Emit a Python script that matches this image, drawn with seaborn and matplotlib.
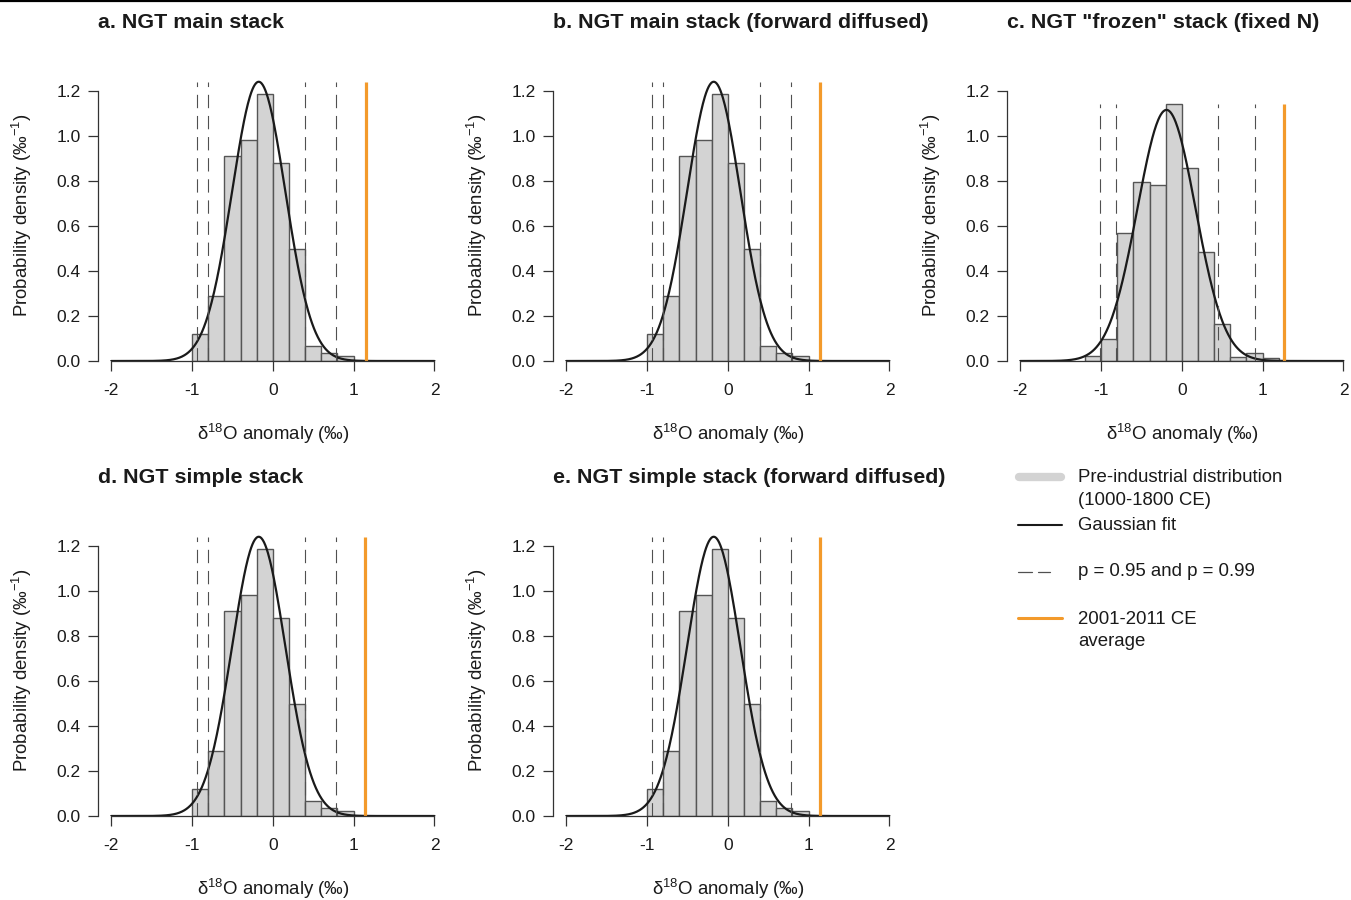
import numpy as np
import pandas as pd
import matplotlib
matplotlib.use("Agg")
import matplotlib.pyplot as plt
import seaborn as sns
from matplotlib.lines import Line2D

sns.set_style("ticks")
plt.rcParams['font.family'] = ['Liberation Sans', 'DejaVu Sans']
plt.rcParams['mathtext.fontset'] = 'custom'
plt.rcParams['mathtext.rm'] = 'Liberation Sans'
plt.rcParams['mathtext.it'] = 'Liberation Sans:italic'
plt.rcParams['mathtext.bf'] = 'Liberation Sans:bold'
plt.rcParams['axes.unicode_minus'] = False

# ---------------- data ----------------
titles = ['a. NGT main stack',
          'b. NGT main stack (forward diffused)',
          'c. NGT "frozen" stack (fixed N)',
          'd. NGT simple stack',
          'e. NGT simple stack (forward diffused)']

edges_main = [-1.0, -0.8, -0.6, -0.4, -0.2, 0.0, 0.2, 0.4, 0.6, 0.8, 1.0]
dens_main = [0.12, 0.29, 0.913, 0.983, 1.186, 0.88, 0.50, 0.067, 0.034, 0.024]

edges_frozen = [-1.2, -1.0, -0.8, -0.6, -0.4, -0.2, 0.0, 0.2, 0.4, 0.6, 0.8, 1.0, 1.2]
dens_frozen = [0.022, 0.099, 0.567, 0.794, 0.782, 1.144, 0.858, 0.486, 0.163, 0.018, 0.036, 0.012]

fit_mean = [-0.175, -0.175, -0.19, -0.175, -0.175]
fit_sd = [0.33, 0.33, 0.36, 0.33, 0.33]
fit_peak = [1.241, 1.241, 1.116, 1.241, 1.241]

q_main = [-0.94, -0.80, 0.40, 0.78]
q_frozen = [-1.01, -0.81, 0.45, 0.90]

recent_avg = [1.15, 1.145, 1.26, 1.14, 1.135]

x_ticks = [-2, -1, 0, 1, 2]
x_tick_labels = ['-2', '-1', '0', '1', '2']
y_ticks = [0.0, 0.2, 0.4, 0.6, 0.8, 1.0, 1.2]
y_tick_labels = ['0.0', '0.2', '0.4', '0.6', '0.8', '1.0', '1.2']

panel_edges = [edges_main, edges_main, edges_frozen, edges_main, edges_main]
panel_dens = [dens_main, dens_main, dens_frozen, dens_main, dens_main]
panel_q = [q_main, q_main, q_frozen, q_main, q_main]

# ---------------- layout ----------------
W, H = 1351, 900
fig = plt.figure(figsize=(W / 100, H / 100), dpi=100)

left_px = [98.3, 553.3, 1007.3, 98.3, 553.3]
zero_px = [361, 361, 361, 816, 816]
ax_w = 349.1
ax_h = 285.75
title_y = [22.5, 22.5, 22.5, 477.5, 477.5]

FS = 13.4
TFS = 12.5
line_col = '#333333'
ORANGE = '#F39A2B'

for i in range(5):
    ax = fig.add_axes([left_px[i] / W, 1 - zero_px[i] / H, ax_w / W, ax_h / H])
    edges = list(panel_edges[i])
    dens = list(panel_dens[i])
    centers = [(a + b) / 2 for a, b in zip(edges[:-1], edges[1:])]
    df = pd.DataFrame({'x': centers, 'w': dens})
    sns.histplot(data=df, x='x', weights='w', bins=edges, stat='count',
                 color='#d3d3d3', edgecolor='#555555', linewidth=1.0,
                 alpha=1, ax=ax)
    xs = np.linspace(-2, 2, 500)
    ys = fit_peak[i] * np.exp(-(xs - fit_mean[i]) ** 2 / (2 * fit_sd[i] ** 2))
    sns.lineplot(x=xs, y=ys, color='#1a1a1a', lw=1.6, ax=ax)
    top = max(fit_peak[i], max(dens))
    ax.vlines(panel_q[i], 0, top, colors='#505050', linestyles=(0, (12, 7)), lw=0.8)
    ax.vlines([recent_avg[i]], 0, top, colors=ORANGE, lw=2.3)

    ax.set_xlim(-2.16, 2.16)
    ax.set_ylim(0, 1.27)
    for s in ['top', 'right']:
        ax.spines[s].set_visible(False)
    ax.spines['left'].set_bounds(0, 1.2)
    ax.spines['bottom'].set_bounds(-2, 2)
    for s in ['left', 'bottom']:
        ax.spines[s].set_color(line_col)
        ax.spines[s].set_linewidth(0.9)
    ax.set_xticks(x_ticks)
    ax.set_xticklabels(x_tick_labels)
    ax.set_yticks(y_ticks)
    ax.set_yticklabels(y_tick_labels)
    ax.tick_params(axis='both', length=7.5, width=0.9, color=line_col,
                   labelsize=TFS, labelcolor='#1a1a1a')
    ax.tick_params(axis='x', pad=8)
    ax.tick_params(axis='y', pad=5)
    ax.set_xlabel('')
    ax.set_ylabel('')
    ax.text(0.5, -73 / ax_h, r'δ$^{18}$O anomaly (‰)',
            transform=ax.transAxes, ha='center', va='center', fontsize=FS,
            color='#1a1a1a')
    ax.text(-76.5 / ax_w, 145.5 / ax_h, r'Probability density (‰$^{-1}$)',
            transform=ax.transAxes, ha='center', va='center', rotation=90,
            fontsize=FS, color='#1a1a1a')
    fig.text(left_px[i] / W, 1 - title_y[i] / H, titles[i], ha='left',
             va='center', fontsize=15.4, fontweight='bold', color='#1a1a1a')

# ---------------- legend ----------------
lax = fig.add_axes([0, 0, 1, 1])
lax.set_xlim(0, W)
lax.set_ylim(H, 0)
lax.axis('off')
lax.patch.set_alpha(0)
lax.plot([1019, 1061], [477, 477], lw=6, color='#d3d3d3', solid_capstyle='round')
lax.plot([1018, 1062], [525, 525], lw=1.5, color='#1a1a1a')
lax.plot([1018, 1032], [572, 572], lw=0.9, color='#505050')
lax.plot([1038, 1050], [572, 572], lw=0.9, color='#505050')
lax.plot([1018, 1062], [618, 618], lw=2.2, color=ORANGE)
leg_lines = [('Pre-industrial distribution', 478), ('(1000-1800 CE)', 500.5),
             ('Gaussian fit', 525), ('p = 0.95 and p = 0.99', 572),
             ('2001-2011 CE', 619), ('average', 641.5)]
for txt, y in leg_lines:
    lax.text(1078, y, txt, ha='left', va='center', fontsize=FS, color='#1a1a1a')

fig.add_artist(Line2D([0, 1], [1 - 1 / H, 1 - 1 / H], color='black', lw=1.6))

fig.savefig('out.png', dpi=100)
